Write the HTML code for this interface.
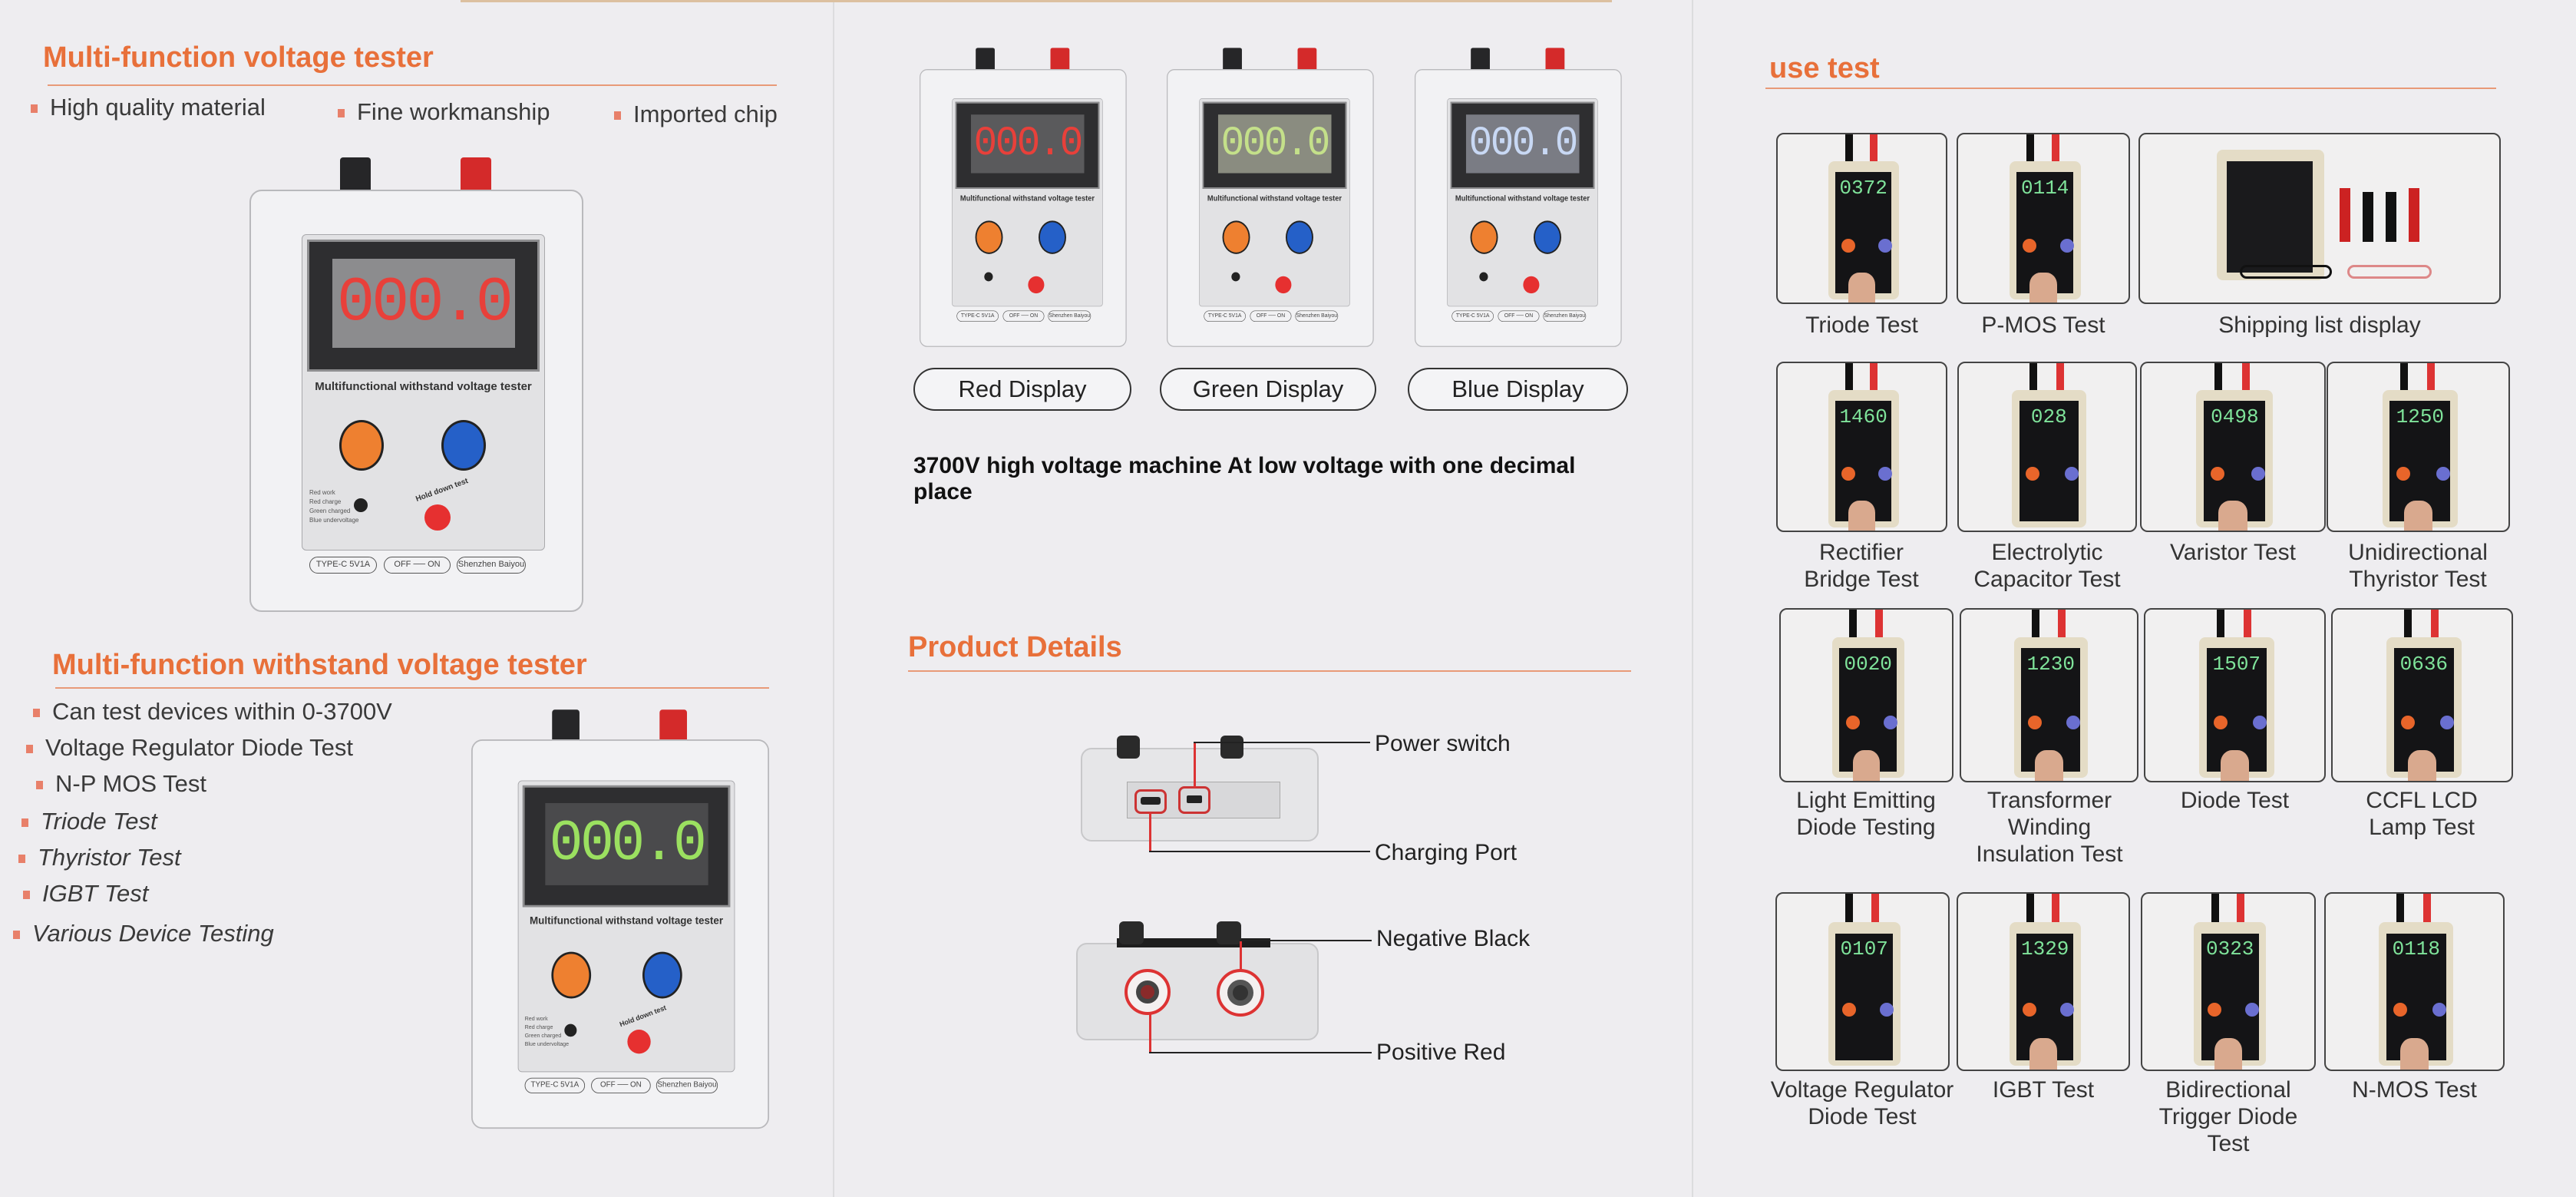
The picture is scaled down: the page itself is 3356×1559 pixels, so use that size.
<!DOCTYPE html>
<html><head><meta charset="utf-8"><style>
*{margin:0;padding:0;box-sizing:border-box}
body{width:3356px;height:1559px;position:relative;overflow:hidden;background:#eeedf0;font-family:"Liberation Sans",sans-serif;color:#333}
.a{position:absolute}
.h{position:absolute;color:#e8703a;font-weight:bold;font-size:38px;white-space:nowrap}
.hl{position:absolute;height:2px;background:#e89a78}
.b{position:absolute;font-size:31px;color:#3a3a3a;white-space:nowrap}
.b:before{content:"";display:inline-block;width:9px;height:11px;background:#e8806a;margin-right:16px;vertical-align:middle}
.dev{position:absolute;width:435px;height:550px;transform-origin:0 0}
.dev .body{position:absolute;left:0;top:0;width:435px;height:550px;border:2px solid #b9b9bc;border-radius:16px;background:#f2f2f4}
.dev .term{position:absolute;top:-42px;width:40px;height:44px;border-radius:4px 4px 0 0}
.dev .pan{position:absolute;left:68px;top:58px;width:317px;height:412px;background:#e2e2e4;border:1px solid #a9a9ac;border-radius:6px}
.dev .scr{position:absolute;left:75px;top:65px;width:303px;height:172px;background:#2e2e30;border:3px solid #8e8e90}
.dev .in{position:absolute;left:108px;top:90px;width:238px;height:116px;background:#8c8c8e;font-family:"Liberation Mono",monospace;font-size:82px;text-align:center;line-height:116px;letter-spacing:-4px}
.dev .tt{position:absolute;left:68px;width:317px;top:248px;text-align:center;font-size:15px;font-weight:bold;color:#333}
.dev .kn{position:absolute;width:58px;height:66px;border-radius:50%;border:3px solid #222}
.dev .sm{position:absolute;font-size:8px;color:#555;left:78px}
.dev .pill{position:absolute;top:478px;height:22px;border:1.5px solid #555;border-radius:11px;font-size:11px;line-height:19px;text-align:center;color:#444}
.tile{position:absolute;border:2px solid #444;border-radius:10px;background:#f1f0f0;overflow:hidden}
.tile .m{position:absolute;left:30%;top:16%;width:42%;height:82%;background:#e4dcc6;border-radius:8px}
.tile .m:before{content:"";position:absolute;left:10%;top:8%;width:80%;height:88%;background:#141416}
.tile .g{position:absolute;left:36%;top:25%;width:30%;height:20%;color:#7fe39a;font-family:"Liberation Mono",monospace;font-size:26px;text-align:center}
.tile .o{position:absolute;left:38%;top:62%;width:18px;height:18px;border-radius:50%;background:#e8652a}
.tile .u{position:absolute;left:60%;top:62%;width:18px;height:18px;border-radius:50%;background:#6a6fd0}
.tile .w1{position:absolute;left:40%;top:0;width:10px;height:22%;background:#111}
.tile .w2{position:absolute;left:55%;top:0;width:10px;height:22%;background:#d33}
.tile .f{position:absolute;left:42%;bottom:0;width:16%;height:18%;background:#d9a98e;border-radius:40% 40% 0 0}
.lab{position:absolute;font-size:30px;color:#333;text-align:center;line-height:35px}
.pl{position:absolute;height:56px;border:2px solid #333;border-radius:28px;font-size:31px;text-align:center;line-height:52px;color:#222;background:#f4f4f6}
.cl{position:absolute;background:#222}
.cl.r{background:#d33}
</style></head><body>
<div class="a" style="left:1085px;top:0;width:2px;height:1559px;background:#dcdcde"></div>
<div class="a" style="left:2204px;top:0;width:2px;height:1559px;background:#dcdcde"></div>
<div class="a" style="left:600px;top:0;width:1500px;height:3px;background:#dcc0a0"></div>

<!-- Left panel -->
<div class="h" style="left:56px;top:54px">Multi-function voltage tester</div>
<div class="hl" style="left:62px;top:110px;width:950px"></div>
<div class="b" style="left:40px;top:122px">High quality material</div>
<div class="b" style="left:440px;top:128px">Fine workmanship</div>
<div class="b" style="left:800px;top:131px">Imported chip</div>

<div class="dev" style="left:325px;top:247px">
<div class="term" style="left:118px;background:#262628"></div><div class="term" style="left:275px;background:#d42a2a"></div>
<div class="body"></div><div class="pan"></div><div class="scr"></div>
<div class="in" style="color:#e8403a">000.0</div>
<div class="tt">Multifunctional withstand voltage tester</div>
<div class="kn" style="left:117px;top:300px;background:#ee8030"></div>
<div class="kn" style="left:250px;top:300px;background:#2560c8"></div>
<div class="sm" style="top:390px">Red work</div><div class="sm" style="top:402px">Red charge</div><div class="sm" style="top:414px">Green charged</div><div class="sm" style="top:426px">Blue undervoltage</div>
<div class="a" style="left:136px;top:402px;width:18px;height:18px;border-radius:50%;background:#222"></div>
<div class="a" style="left:228px;top:410px;width:34px;height:34px;border-radius:50%;background:#e63030"></div>
<div class="a" style="left:215px;top:386px;font-size:10px;font-weight:bold;transform:rotate(-20deg)">Hold down test</div>
<div class="pill" style="left:78px;width:88px">TYPE-C 5V1A</div>
<div class="pill" style="left:175px;width:87px">OFF ── ON</div>
<div class="pill" style="left:270px;width:90px">Shenzhen Baiyou</div>
</div>

<div class="h" style="left:68px;top:845px">Multi-function withstand voltage tester</div>
<div class="hl" style="left:72px;top:895px;width:930px"></div>
<div class="b" style="left:43px;top:909px">Can test devices within 0-3700V</div>
<div class="b" style="left:34px;top:956px">Voltage Regulator Diode Test</div>
<div class="b" style="left:47px;top:1003px">N-P MOS Test</div>
<div class="b" style="left:28px;top:1052px;font-style:italic">Triode Test</div>
<div class="b" style="left:24px;top:1099px;font-style:italic">Thyristor Test</div>
<div class="b" style="left:30px;top:1146px;font-style:italic">IGBT Test</div>
<div class="b" style="left:17px;top:1198px;font-style:italic">Various Device Testing</div>

<div class="dev" style="left:614px;top:963px;transform:scale(0.892,0.922)">
<div class="term" style="left:118px;background:#262628"></div><div class="term" style="left:275px;background:#d42a2a"></div>
<div class="body"></div><div class="pan"></div><div class="scr"></div>
<div class="in" style="color:#9be060;background:#4a4a4c">000.0</div>
<div class="tt">Multifunctional withstand voltage tester</div>
<div class="kn" style="left:117px;top:300px;background:#ee8030"></div>
<div class="kn" style="left:250px;top:300px;background:#2560c8"></div>
<div class="sm" style="top:390px">Red work</div><div class="sm" style="top:402px">Red charge</div><div class="sm" style="top:414px">Green charged</div><div class="sm" style="top:426px">Blue undervoltage</div>
<div class="a" style="left:136px;top:402px;width:18px;height:18px;border-radius:50%;background:#222"></div>
<div class="a" style="left:228px;top:410px;width:34px;height:34px;border-radius:50%;background:#e63030"></div>
<div class="a" style="left:215px;top:386px;font-size:10px;font-weight:bold;transform:rotate(-20deg)">Hold down test</div>
<div class="pill" style="left:78px;width:88px">TYPE-C 5V1A</div>
<div class="pill" style="left:175px;width:87px">OFF ── ON</div>
<div class="pill" style="left:270px;width:90px">Shenzhen Baiyou</div>
</div>

<!-- Middle panel -->
<div class="dev" style="left:1198px;top:90px;transform:scale(0.62,0.658)">
<div class="term" style="left:118px;background:#262628"></div><div class="term" style="left:275px;background:#d42a2a"></div>
<div class="body"></div><div class="pan"></div><div class="scr"></div>
<div class="in" style="color:#e8403a;background:#5a5a5c">000.0</div>
<div class="tt">Multifunctional withstand voltage tester</div>
<div class="kn" style="left:117px;top:300px;background:#ee8030"></div>
<div class="kn" style="left:250px;top:300px;background:#2560c8"></div>
<div class="a" style="left:136px;top:402px;width:18px;height:18px;border-radius:50%;background:#222"></div>
<div class="a" style="left:228px;top:410px;width:34px;height:34px;border-radius:50%;background:#e63030"></div>
<div class="pill" style="left:78px;width:88px">TYPE-C 5V1A</div>
<div class="pill" style="left:175px;width:87px">OFF ── ON</div>
<div class="pill" style="left:270px;width:90px">Shenzhen Baiyou</div>
</div>
<div class="dev" style="left:1520px;top:90px;transform:scale(0.62,0.658)">
<div class="term" style="left:118px;background:#262628"></div><div class="term" style="left:275px;background:#d42a2a"></div>
<div class="body"></div><div class="pan"></div><div class="scr"></div>
<div class="in" style="color:#c4e08a;background:#8a8c80">000.0</div>
<div class="tt">Multifunctional withstand voltage tester</div>
<div class="kn" style="left:117px;top:300px;background:#ee8030"></div>
<div class="kn" style="left:250px;top:300px;background:#2560c8"></div>
<div class="a" style="left:136px;top:402px;width:18px;height:18px;border-radius:50%;background:#222"></div>
<div class="a" style="left:228px;top:410px;width:34px;height:34px;border-radius:50%;background:#e63030"></div>
<div class="pill" style="left:78px;width:88px">TYPE-C 5V1A</div>
<div class="pill" style="left:175px;width:87px">OFF ── ON</div>
<div class="pill" style="left:270px;width:90px">Shenzhen Baiyou</div>
</div>
<div class="dev" style="left:1843px;top:90px;transform:scale(0.62,0.658)">
<div class="term" style="left:118px;background:#262628"></div><div class="term" style="left:275px;background:#d42a2a"></div>
<div class="body"></div><div class="pan"></div><div class="scr"></div>
<div class="in" style="color:#c8d8f4;background:#7a7c84">000.0</div>
<div class="tt">Multifunctional withstand voltage tester</div>
<div class="kn" style="left:117px;top:300px;background:#ee8030"></div>
<div class="kn" style="left:250px;top:300px;background:#2560c8"></div>
<div class="a" style="left:136px;top:402px;width:18px;height:18px;border-radius:50%;background:#222"></div>
<div class="a" style="left:228px;top:410px;width:34px;height:34px;border-radius:50%;background:#e63030"></div>
<div class="pill" style="left:78px;width:88px">TYPE-C 5V1A</div>
<div class="pill" style="left:175px;width:87px">OFF ── ON</div>
<div class="pill" style="left:270px;width:90px">Shenzhen Baiyou</div>
</div>

<div class="pl" style="left:1190px;top:479px;width:284px">Red Display</div>
<div class="pl" style="left:1511px;top:479px;width:282px">Green Display</div>
<div class="pl" style="left:1834px;top:479px;width:287px">Blue Display</div>

<div class="a" style="left:1190px;top:590px;font-size:30px;font-weight:bold;color:#111;line-height:34px;width:910px">3700V high voltage machine At low voltage with one decimal place</div>

<div class="h" style="left:1183px;top:822px">Product Details</div>
<div class="hl" style="left:1183px;top:873px;width:942px"></div>

<div class="a" style="left:1408px;top:974px;width:310px;height:122px;background:#e6e6e8;border:2px solid #c8c8ca;border-radius:14px"></div>
<div class="a" style="left:1455px;top:958px;width:30px;height:30px;background:#2a2a2a;border-radius:6px"></div>
<div class="a" style="left:1590px;top:958px;width:30px;height:30px;background:#2a2a2a;border-radius:6px"></div>
<div class="a" style="left:1468px;top:1018px;width:200px;height:48px;background:#d8d8da;border:1px solid #aaa"></div>
<div class="a" style="left:1478px;top:1028px;width:42px;height:32px;border:3px solid #c33;border-radius:8px"></div>
<div class="a" style="left:1486px;top:1038px;width:26px;height:10px;background:#222;border-radius:3px"></div>
<div class="a" style="left:1535px;top:1024px;width:42px;height:36px;border:3px solid #c33;border-radius:8px"></div>
<div class="a" style="left:1546px;top:1036px;width:20px;height:10px;background:#222;border-radius:2px"></div>
<div class="cl r" style="left:1555px;top:966px;width:3px;height:60px"></div>
<div class="cl" style="left:1555px;top:966px;width:230px;height:2px"></div>
<div class="cl r" style="left:1497px;top:1058px;width:3px;height:52px"></div>
<div class="cl" style="left:1497px;top:1108px;width:288px;height:2px"></div>
<div class="a" style="left:1791px;top:952px;font-size:30px;color:#222">Power switch</div>
<div class="a" style="left:1791px;top:1094px;font-size:30px;color:#222">Charging Port</div>

<div class="a" style="left:1402px;top:1228px;width:316px;height:127px;background:#e2e2e4;border:2px solid #c8c8ca;border-radius:14px"></div>
<div class="a" style="left:1455px;top:1222px;width:200px;height:12px;background:#1e1e1e"></div>
<div class="a" style="left:1458px;top:1200px;width:32px;height:30px;background:#2a2a2a;border-radius:6px"></div>
<div class="a" style="left:1585px;top:1200px;width:32px;height:30px;background:#2a2a2a;border-radius:6px"></div>
<div class="a" style="left:1465px;top:1262px;width:60px;height:60px;border-radius:50%;border:4px solid #d33;background:#f4f0f0"></div>
<div class="a" style="left:1480px;top:1277px;width:30px;height:30px;border-radius:50%;background:#8a2a2a;border:6px solid #444"></div>
<div class="a" style="left:1585px;top:1262px;width:62px;height:62px;border-radius:50%;border:4px solid #d33;background:#f4f0f0"></div>
<div class="a" style="left:1599px;top:1276px;width:34px;height:34px;border-radius:50%;background:#333;border:7px solid #555"></div>
<div class="cl r" style="left:1615px;top:1224px;width:3px;height:40px"></div>
<div class="cl" style="left:1615px;top:1224px;width:172px;height:2px"></div>
<div class="cl r" style="left:1497px;top:1320px;width:3px;height:52px"></div>
<div class="cl" style="left:1497px;top:1370px;width:290px;height:2px"></div>
<div class="a" style="left:1793px;top:1206px;font-size:30px;color:#222">Negative Black</div>
<div class="a" style="left:1793px;top:1354px;font-size:30px;color:#222">Positive Red</div>

<!-- Right panel -->
<div class="h" style="left:2305px;top:68px">use test</div>
<div class="hl" style="left:2300px;top:114px;width:952px"></div>

<div class="tile" style="left:2314px;top:173px;width:223px;height:223px"><div class="w1"></div><div class="w2"></div><div class="m"></div><div class="g">0372</div><div class="o"></div><div class="u"></div><div class="f"></div></div>
<div class="tile" style="left:2549px;top:173px;width:226px;height:223px"><div class="w1"></div><div class="w2"></div><div class="m"></div><div class="g">0114</div><div class="o"></div><div class="u"></div><div class="f"></div></div>
<div class="tile" style="left:2786px;top:173px;width:472px;height:223px">
<div class="a" style="left:100px;top:20px;width:140px;height:170px;background:#e4dcc6;border-radius:8px"></div>
<div class="a" style="left:113px;top:35px;width:112px;height:145px;background:#1a1a1c"></div>
<div class="a" style="left:260px;top:70px;width:14px;height:70px;background:#c22"></div>
<div class="a" style="left:290px;top:75px;width:14px;height:65px;background:#111"></div>
<div class="a" style="left:320px;top:75px;width:14px;height:65px;background:#111"></div>
<div class="a" style="left:350px;top:70px;width:14px;height:70px;background:#c22"></div>
<div class="a" style="left:130px;top:170px;width:120px;height:18px;border:3px solid #111;border-radius:9px"></div>
<div class="a" style="left:270px;top:170px;width:110px;height:18px;border:3px solid #d88;border-radius:9px"></div>
</div>
<div class="lab" style="left:2314px;top:406px;width:223px">Triode Test</div>
<div class="lab" style="left:2549px;top:406px;width:226px">P-MOS Test</div>
<div class="lab" style="left:2786px;top:406px;width:472px">Shipping list display</div>

<div class="tile" style="left:2314px;top:471px;width:223px;height:222px"><div class="w1"></div><div class="w2"></div><div class="m"></div><div class="g">1460</div><div class="o"></div><div class="u"></div><div class="f"></div></div>
<div class="tile" style="left:2550px;top:471px;width:234px;height:222px"><div class="w1"></div><div class="w2"></div><div class="m"></div><div class="g">028</div><div class="o"></div><div class="u"></div></div>
<div class="tile" style="left:2788px;top:471px;width:242px;height:222px"><div class="w1"></div><div class="w2"></div><div class="m"></div><div class="g">0498</div><div class="o"></div><div class="u"></div><div class="f"></div></div>
<div class="tile" style="left:3031px;top:471px;width:239px;height:222px"><div class="w1"></div><div class="w2"></div><div class="m"></div><div class="g">1250</div><div class="o"></div><div class="u"></div><div class="f"></div></div>
<div class="lab" style="left:2300px;top:702px;width:250px">Rectifier<br>Bridge Test</div>
<div class="lab" style="left:2540px;top:702px;width:254px">Electrolytic<br>Capacitor Test</div>
<div class="lab" style="left:2788px;top:702px;width:242px">Varistor Test</div>
<div class="lab" style="left:3020px;top:702px;width:260px">Unidirectional<br>Thyristor Test</div>

<div class="tile" style="left:2318px;top:792px;width:227px;height:227px"><div class="w1"></div><div class="w2"></div><div class="m"></div><div class="g">0020</div><div class="o"></div><div class="u"></div><div class="f"></div></div>
<div class="tile" style="left:2553px;top:792px;width:233px;height:227px"><div class="w1"></div><div class="w2"></div><div class="m"></div><div class="g">1230</div><div class="o"></div><div class="u"></div><div class="f"></div></div>
<div class="tile" style="left:2793px;top:792px;width:237px;height:227px"><div class="w1"></div><div class="w2"></div><div class="m"></div><div class="g">1507</div><div class="o"></div><div class="u"></div><div class="f"></div></div>
<div class="tile" style="left:3037px;top:792px;width:237px;height:227px"><div class="w1"></div><div class="w2"></div><div class="m"></div><div class="g">0636</div><div class="o"></div><div class="u"></div><div class="f"></div></div>
<div class="lab" style="left:2300px;top:1025px;width:262px">Light Emitting<br>Diode Testing</div>
<div class="lab" style="left:2540px;top:1025px;width:260px">Transformer<br>Winding<br>Insulation Test</div>
<div class="lab" style="left:2793px;top:1025px;width:237px">Diode Test</div>
<div class="lab" style="left:3030px;top:1025px;width:250px">CCFL LCD<br>Lamp Test</div>

<div class="tile" style="left:2313px;top:1162px;width:227px;height:233px"><div class="w1"></div><div class="w2"></div><div class="m"></div><div class="g">0107</div><div class="o"></div><div class="u"></div></div>
<div class="tile" style="left:2549px;top:1162px;width:226px;height:233px"><div class="w1"></div><div class="w2"></div><div class="m"></div><div class="g">1329</div><div class="o"></div><div class="u"></div><div class="f"></div></div>
<div class="tile" style="left:2789px;top:1162px;width:228px;height:233px"><div class="w1"></div><div class="w2"></div><div class="m"></div><div class="g">0323</div><div class="o"></div><div class="u"></div><div class="f"></div></div>
<div class="tile" style="left:3028px;top:1162px;width:235px;height:233px"><div class="w1"></div><div class="w2"></div><div class="m"></div><div class="g">0118</div><div class="o"></div><div class="u"></div><div class="f"></div></div>
<div class="lab" style="left:2290px;top:1402px;width:272px">Voltage Regulator<br>Diode Test</div>
<div class="lab" style="left:2549px;top:1402px;width:226px">IGBT Test</div>
<div class="lab" style="left:2775px;top:1402px;width:256px">Bidirectional<br>Trigger Diode<br>Test</div>
<div class="lab" style="left:3028px;top:1402px;width:235px">N-MOS Test</div>
</body></html>
